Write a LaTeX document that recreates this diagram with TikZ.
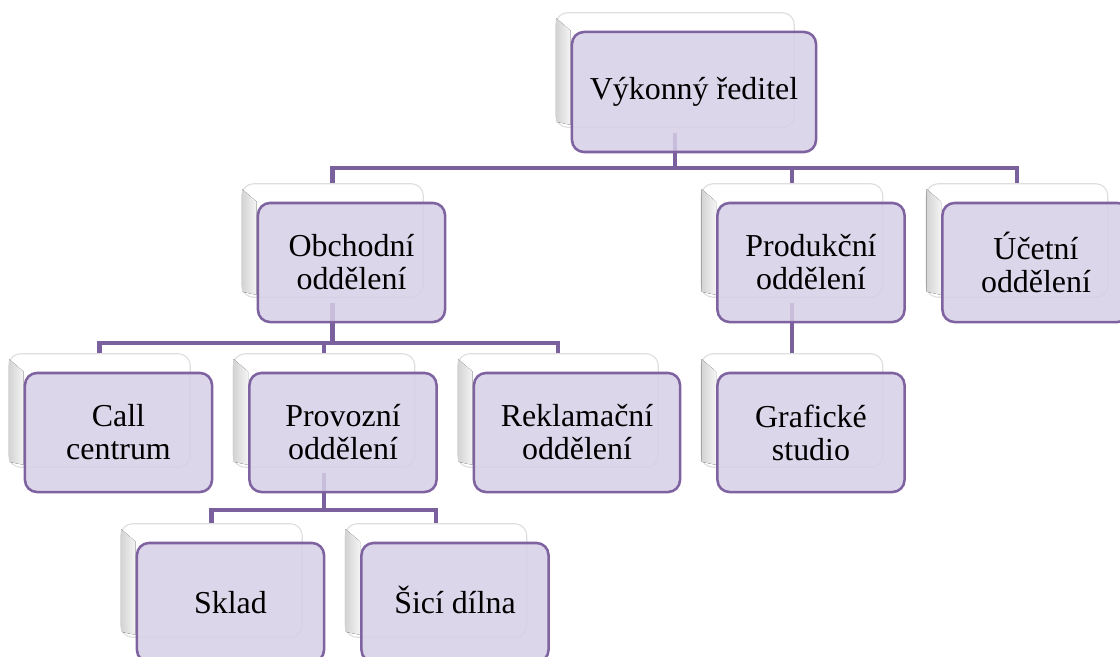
\documentclass[tikz,border=0pt]{standalone}
\usepackage{fontspec}
\setmainfont{Liberation Serif}
\usetikzlibrary{fit,backgrounds}
\begin{document}
\begin{tikzpicture}[x=0.025cm,y=-0.025cm,
    unitbox/.style={shape=rectangle,rounded corners=0.3cm,draw=orgline,line width=1.8pt,fill=orgfill,fill opacity=0.85,text opacity=1,minimum width=4.675cm,minimum height=2.975cm,align=center,inner sep=2pt,font=\fontsize{22.7}{23.5}\selectfont},
    oneline/.style={text height=15pt,text depth=0pt},
    backbox/.style={shape=rectangle,rounded corners=0.3cm,draw=black!13,line width=0.8pt,fill=white,inner sep=0pt},
    bevel/.style={left color=black!17,right color=black!4},
    conn/.style={draw=orgconn,line width=3.2pt}]
    \definecolor{orgfill}{RGB}{214,207,231}
    \definecolor{orgline}{RGB}{127,99,161}
    \definecolor{orgconn}{RGB}{122,96,156}
    \useasboundingbox (0,0) rectangle (1120,657);
    \clip (0,0) rectangle (1120,657);
    % front boxes
    \node[unitbox,minimum width=6.1cm,minimum height=3cm] (vr) at (694,92) {Výkonný ředitel};
    \node[unitbox] (obch) at (351.5,262.5) {Obchodní\\oddělení};
    \node[unitbox] (prod) at (811,262.5) {Produkční\\oddělení};
    \node[unitbox] (ucet) at (1036,262.5) {Účetní\\oddělení};
    \node[unitbox] (call) at (118.5,432.5) {Call\\centrum};
    \node[unitbox] (prov) at (343,432.5) {Provozní\\oddělení};
    \node[unitbox,minimum width=5.15cm] (rekl) at (577,432.5) {Reklamační\\oddělení};
    \node[unitbox] (graf) at (811,432.5) {Grafické\\studio};
    \node[unitbox,oneline] (sklad) at (230.5,602.5) {Sklad};
    \node[unitbox,oneline] (sici) at (455,602.5) {Šicí dílna};
    \coordinate (bus1) at (0,168);
    \coordinate (bus2) at (0,343);
    \coordinate (bus3) at (0,510);
    \begin{scope}[on background layer]
    % back boxes
    \foreach \n in {vr,obch,prod,ucet,call,prov,rekl,graf,sklad,sici} {
        \node[backbox,fit={([shift={(-15,-18)}]\n.north west) ([shift={(-23,-26)}]\n.south east)}] (\n-b) {};
        \fill[bevel] ([shift={(1,6)}]\n-b.north west) -- (\n.north west) -- ([shift={(0,-3)}]\n.west |- \n-b.south) -- ([shift={(1,-6)}]\n-b.south west) -- cycle;
    }
    % connectors
    \draw[conn] ([shift={(0,-20)}]vr-b.south |- vr.south) -- (vr-b.south |- bus1) -| (obch-b.north);
    \draw[conn] (vr-b.south |- bus1) -| (prod-b.north);
    \draw[conn] (vr-b.south |- bus1) -| (ucet-b.north);
    \draw[conn] ([shift={(0,-20)}]obch-b.south |- obch.south) -- (obch-b.south |- bus2) -| (call-b.north);
    \draw[conn] (obch-b.south |- bus2) -| (prov-b.north);
    \draw[conn] (obch-b.south |- bus2) -| (rekl-b.north);
    \draw[conn] ([shift={(0,-20)}]prod-b.south |- prod.south) -- (graf-b.north);
    \draw[conn] ([shift={(0,-20)}]prov-b.south |- prov.south) -- (prov-b.south |- bus3) -| (sklad-b.north);
    \draw[conn] (prov-b.south |- bus3) -| (sici-b.north);
    \end{scope}
\end{tikzpicture}
\end{document}
